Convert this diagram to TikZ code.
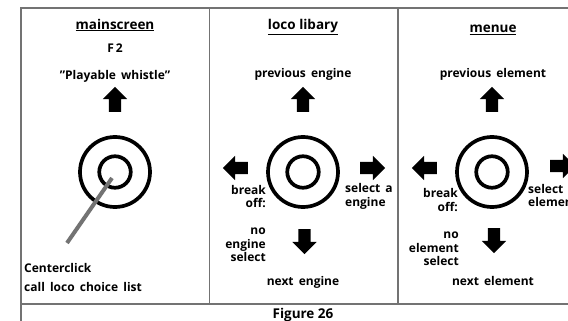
\documentclass[tikz,border=0pt]{standalone}
\usepackage{fontspec}
\setmainfont{Open Sans}
\usetikzlibrary{shapes.arrows}

\tikzset{
    frame/.style={line width=1.2pt, draw=black!55},
    ring/.style={circle, draw, line width=3.7pt, inner sep=0pt},
    blockarrow/.style={single arrow, fill=black, inner sep=6pt,
        minimum height=25pt, single arrow head extend=6pt},
    title/.style={font=\fontsize{13.5}{15}\selectfont\bfseries},
    lbl/.style={font=\fontsize{12}{13.5}\selectfont\bfseries, inner sep=0pt}
}

\begin{document}
\begin{tikzpicture}[x=1pt, y=-1pt]
    \clip (0,0) rectangle (568,321);
    \def\ya{172}
    \def\xa{115}
    \def\xb{303}
    \def\xc{492}
    \def\ro{70pt}
    \def\ri{31.5pt}

    % Draw the frame and the dividers
    \draw[frame] (20,8) -- (568,8);
    \draw[frame] (21,8) -- (21,321);
    \draw[frame] (21,304) -- (568,304);
    \draw[frame] (209.5,8) -- (209.5,304);
    \draw[frame] (398,8) -- (398,304);

    % Mainscreen
    \node[title] (mainTitle) at (\xa, 25) {\underline{mainscreen}};
    \node[lbl] (mainKey) at (\xa, 48) {F\,2};
    \node[lbl] (mainWhistle) at (\xa, 76) {\symbol{34}Playable\, whistle\symbol{34}};
    \node[blockarrow, shape border rotate=90] (mainUp) at (\xa, 102.5) {};
    \node[ring, minimum size=\ro] (mainOuter) at (\xa, \ya) {};
    \node[ring, minimum size=\ri] (mainInner) at (\xa, \ya) {};
    \coordinate (clickStart) at (112, 178);
    \coordinate (clickEnd) at (67, 243);
    \draw[line width=4pt, black!55] (clickStart) -- (clickEnd);
    \node[lbl, anchor=west] (mainClick) at (24, 268) {Centerclick};
    \node[lbl, anchor=west] (mainList) at (24, 287) {call\, loco\, choice\, list};

    % Loco libary
    \node[title] (locoTitle) at (\xb, 27) {\underline{loco libary}};
    \node[lbl] (locoPrev) at (\xb, 74) {previous\, engine};
    \node[blockarrow, shape border rotate=90] (locoUp) at (\xb, 102.5) {};
    \node[ring, minimum size=\ro] (locoOuter) at (\xb, \ya) {};
    \node[ring, minimum size=\ri] (locoInner) at (\xb, \ya) {};
    \node[blockarrow, shape border rotate=180] (locoLeft) at (238.5, 168) {};
    \node[blockarrow] (locoRight) at (369.5, 168) {};
    \node[blockarrow, shape border rotate=270] (locoDown) at (304.5, 238.5) {};
    \node[lbl, anchor=east, align=right] (locoBreak) at (266, 196.5) {break\\off:};
    \node[lbl, anchor=west, align=left] (locoSelect) at (345, 196.5) {select\, a\\engine};
    \node[lbl, anchor=east, align=right] (locoNone) at (266, 245) {no\\engine\\select};
    \node[lbl] (locoNext) at (\xb, 282) {next\, engine};

    % Menue
    \node[title] (menuTitle) at (493, 30) {\underline{menue}};
    \node[lbl] (menuPrev) at (493, 74) {previous\, element};
    \node[blockarrow, shape border rotate=90] (menuUp) at (\xc, 102.5) {};
    \node[ring, minimum size=\ro] (menuOuter) at (\xc, \ya) {};
    \node[ring, minimum size=\ri] (menuInner) at (\xc, \ya) {};
    \node[blockarrow, shape border rotate=180] (menuLeft) at (427.5, 168) {};
    \node[blockarrow] (menuRight) at (559.5, 166) {};
    \node[blockarrow, shape border rotate=270] (menuDown) at (494, 237.5) {};
    \node[lbl, anchor=east, align=right] (menuBreak) at (458, 200) {break\\off:};
    \node[lbl, anchor=west, align=left] (menuSelect) at (528, 195.5) {select\\element};
    \node[lbl, anchor=east, align=right] (menuNone) at (459, 249) {no\\element\\select};
    \node[lbl] (menuNext) at (493, 281) {next\, element};

    % Caption
    \node[font=\fontsize{13.5}{16}\selectfont\bfseries] (caption) at (\xb, 315) {Figure 26};
\end{tikzpicture}
\end{document}
